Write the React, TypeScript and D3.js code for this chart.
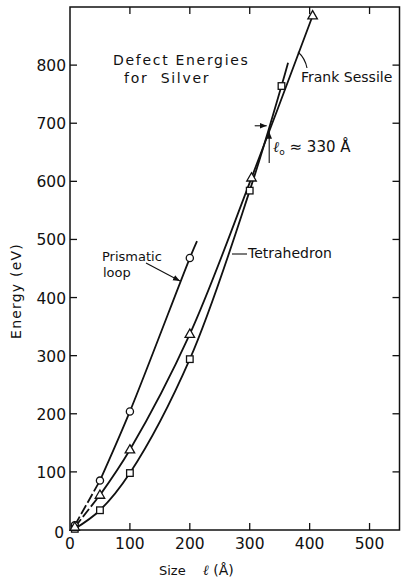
import React from "react";
import * as d3 from "d3";

// ---- data ----
const sizeTicks = [0, 100, 200, 300, 400, 500];
const energyTicks = [0, 100, 200, 300, 400, 500, 600, 700, 800];

// Prismatic loop (circles)
const prismaticSize = [8, 50, 100, 200];
const prismaticEnergy = [8, 85, 204, 468];
const prismaticLineEnd = [212, 497];

// Frank Sessile (triangles)
const frankSize = [8, 50, 100, 200, 303, 405];
const frankEnergy = [5, 60, 138, 337, 606, 885];

// Tetrahedron (squares)
const tetraSize = [8, 50, 100, 200, 300, 353];
const tetraEnergy = [2, 34, 98, 294, 584, 764];
const tetraLineEnd = [364, 804];

const crossoverSize = 330;
const crossoverEnergy = 687;

const W = 401;
const H = 580;
const FONT = "'DejaVu Sans', sans-serif";

export default function App() {
  const x = d3.scaleLinear().domain([0, 550]).range([70, 399.5]);
  const y = d3.scaleLinear().domain([0, 900]).range([530, 7]);

  const line = d3
    .line<[number, number]>()
    .x((d) => x(d[0]))
    .y((d) => y(d[1]))
    .curve(d3.curveCatmullRom.alpha(0.5));

  const zip = (a: number[], b: number[]): [number, number][] =>
    a.map((v, i) => [v, b[i]] as [number, number]);

  const prisPts = zip(prismaticSize, prismaticEnergy);
  const frankPts = zip(frankSize, frankEnergy);
  const tetraPts = zip(tetraSize, tetraEnergy);

  const prisSolid = [...prisPts.slice(1), prismaticLineEnd as [number, number]];
  const frankSolid = frankPts.slice(1);
  const tetraLine = [...tetraPts, tetraLineEnd as [number, number]];

  const straight = d3
    .line<[number, number]>()
    .x((d) => x(d[0]))
    .y((d) => y(d[1]));

  const tick = 7;
  const stroke = "#111";

  const triPath = (cx: number, cy: number) => {
    const s = 9.5;
    const h = s * 0.87;
    return `M${cx},${cy - h * 0.62} L${cx + s / 2},${cy + h * 0.38} L${cx - s / 2},${cy + h * 0.38} Z`;
  };

  return (
    <svg
      width={W}
      height={H}
      style={{ position: "absolute", left: 0, top: 0, background: "#fff" }}
      fontFamily={FONT}
    >
      <defs>
        <marker
          id="arr"
          viewBox="0 0 10 10"
          refX="10"
          refY="5"
          markerWidth="7"
          markerHeight="7"
          orient="auto"
          markerUnits="userSpaceOnUse"
        >
          <path d="M0,1 L10,5 L0,9 Z" fill={stroke} />
        </marker>
      </defs>
      <rect width={W} height={H} fill="#fff" />

      {/* frame */}
      <rect
        x={x(0)}
        y={y(900)}
        width={x(550) - x(0)}
        height={y(0) - y(900)}
        fill="none"
        stroke={stroke}
        strokeWidth={1.5}
      />

      {/* ticks */}
      {sizeTicks.slice(1).map((t) => (
        <g key={"xt" + t}>
          <line x1={x(t)} x2={x(t)} y1={y(0)} y2={y(0) - tick} stroke={stroke} strokeWidth={1.3} />
          <line x1={x(t)} x2={x(t)} y1={y(900)} y2={y(900) + tick} stroke={stroke} strokeWidth={1.3} />
        </g>
      ))}
      {energyTicks.slice(1).map((t) => (
        <g key={"yt" + t}>
          <line x1={x(0)} x2={x(0) + tick} y1={y(t)} y2={y(t)} stroke={stroke} strokeWidth={1.3} />
          <line x1={x(550)} x2={x(550) - tick} y1={y(t)} y2={y(t)} stroke={stroke} strokeWidth={1.3} />
        </g>
      ))}

      {/* tick labels */}
      {sizeTicks.map((t) => (
        <text key={"xl" + t} x={x(t)} y={y(0) + 19} textAnchor="middle" fontSize={15.5} fill={stroke}>
          {t}
        </text>
      ))}
      {energyTicks.map((t) => (
        <text
          key={"yl" + t}
          x={t === 0 ? 64 : 66}
          y={y(t) + (t === 0 ? 8 : 6)}
          textAnchor="end"
          fontSize={15.5}
          fill={stroke}
        >
          {t}
        </text>
      ))}

      {/* axis titles */}
      <text x={159} y={575} fontSize={13} fill={stroke} style={{ whiteSpace: "pre" }}>
        Size
        <tspan x={203} fontSize={14} fontStyle="italic" fontFamily="'DejaVu Serif', serif">ℓ</tspan>
        <tspan fontSize={14}> (Å)</tspan>
      </text>
      <text
        transform={`translate(21, 291) rotate(-90)`}
        textAnchor="middle"
        fontSize={14}
        letterSpacing={1.2}
        fill={stroke}
      >
        Energy (eV)
      </text>

      {/* curves */}
      <path d={straight([prisPts[0], prisPts[1]]) || ""} fill="none" stroke={stroke} strokeWidth={1.8} strokeDasharray="10,3" />
      <path d={line(prisSolid) || ""} fill="none" stroke={stroke} strokeWidth={1.8} />
      <path d={straight([frankPts[0], frankPts[1]]) || ""} fill="none" stroke={stroke} strokeWidth={1.8} strokeDasharray="10,3" />
      <path d={line(frankSolid) || ""} fill="none" stroke={stroke} strokeWidth={1.8} />
      <path d={line(tetraLine) || ""} fill="none" stroke={stroke} strokeWidth={1.8} />

      {/* markers */}
      {prisPts.map((p, i) => (
        <circle key={"c" + i} cx={x(p[0])} cy={y(p[1])} r={3.6} fill="#fff" stroke={stroke} strokeWidth={1.3} />
      ))}
      {tetraPts.map((p, i) => (
        <rect key={"s" + i} x={x(p[0]) - 3.3} y={y(p[1]) - 3.3} width={6.6} height={6.6} fill="#fff" stroke={stroke} strokeWidth={1.3} />
      ))}
      {frankPts.map((p, i) => (
        <path key={"t" + i} d={triPath(x(p[0]), y(p[1]))} fill="#fff" stroke={stroke} strokeWidth={1.3} />
      ))}

      {/* annotations */}
      <text x={113} y={65} fontSize={14} letterSpacing={1.7} fill={stroke}>
        Defect Energies
      </text>
      <text x={124} y={83} fontSize={14} letterSpacing={1.7} fill={stroke} style={{ whiteSpace: "pre" }}>
        {"for  Silver"}
      </text>

      <text x={301} y={82} fontSize={14} fill={stroke}>
        Frank Sessile
      </text>
      <path d="M307,68 Q305,58 298,52" fill="none" stroke={stroke} strokeWidth={1.1} />

      <text x={102} y={261} fontSize={13} fill={stroke}>
        Prismatic
      </text>
      <text x={103} y={277} fontSize={13} fill={stroke}>
        loop
      </text>
      <line x1={146} y1={263} x2={180} y2={281} stroke={stroke} strokeWidth={1.1} markerEnd="url(#arr)" />

      <text x={248} y={258} fontSize={14} fill={stroke}>
        Tetrahedron
      </text>
      <line x1={232} y1={254} x2={247} y2={254} stroke={stroke} strokeWidth={1.1} />

      {/* crossover */}
      <line
        x1={x(crossoverSize) - 13}
        y1={y(crossoverEnergy) - 5}
        x2={x(crossoverSize) - 1}
        y2={y(crossoverEnergy) - 5}
        stroke={stroke}
        strokeWidth={1.1}
        markerEnd="url(#arr)"
      />
      <line
        x1={x(crossoverSize) + 1.5}
        y1={163}
        x2={x(crossoverSize) + 1.5}
        y2={y(crossoverEnergy) + 1}
        stroke={stroke}
        strokeWidth={1.1}
        markerEnd="url(#arr)"
      />
      <text x={273} y={152} fontSize={15} fill={stroke}>
        <tspan fontStyle="italic" fontFamily="'DejaVu Serif', serif">ℓ</tspan>
        <tspan fontSize={9} dy={3}>o</tspan>
        <tspan dy={-3}> ≈ 330 Å</tspan>
      </text>
    </svg>
  );
}
